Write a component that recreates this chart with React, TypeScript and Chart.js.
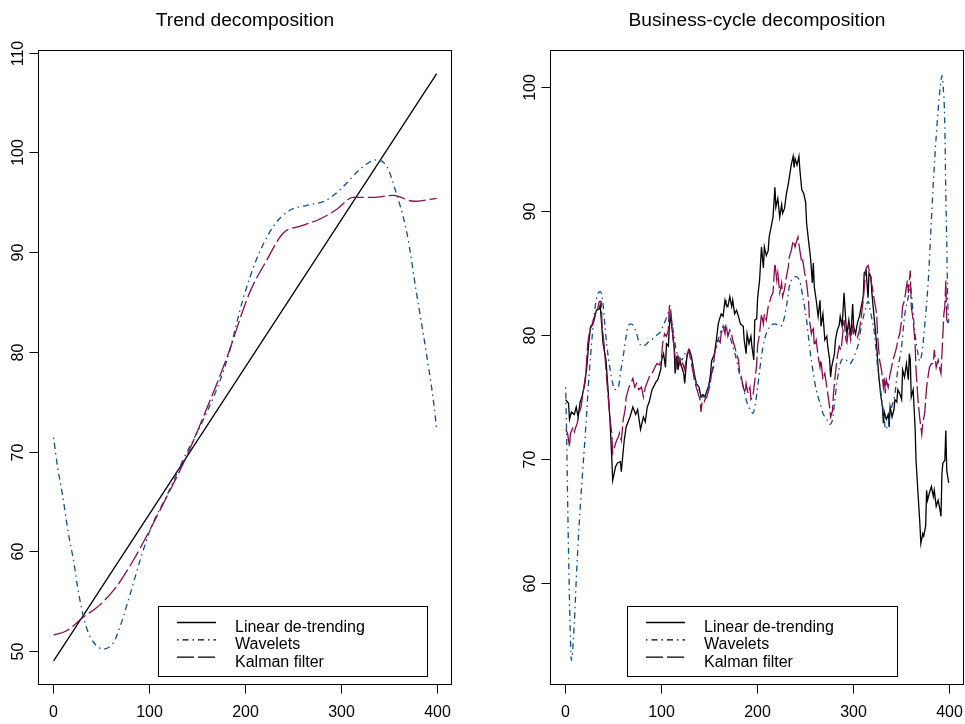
import React, { useEffect, useRef } from "react";
import { Chart, registerables } from "chart.js";

Chart.register(...registerables);

// ---------- tick labels / texts ----------
const xTickValues = [0, 100, 200, 300, 400];
const trendYTicks = [50, 60, 70, 80, 90, 100, 110];
const cycleYTicks = [60, 70, 80, 90, 100];
const legendLabels = ["Linear de-trending", "Wavelets", "Kalman filter"];
const trendTitle = "Trend decomposition";
const cycleTitle = "Business-cycle decomposition";

// ---------- trend panel series: [t, value] ----------
const trendLinear: [number, number][] = [
  [1, 49.0],
  [400, 107.9],
];

const trendWavelets: [number, number][] = [
  [1, 71.4], [5, 68.5], [10, 65.8], [16, 62.0], [22, 58.9], [27, 55.8], [35, 52.4],
  [44, 50.7], [53, 50.2], [63, 50.8], [70, 52.4], [81, 55.8], [92, 59.4], [103, 62.5],
  [119, 65.6], [136, 69.2], [155, 72.8], [169, 75.8], [182, 79.3], [198, 85.2],
  [212, 89.2], [230, 92.6], [247, 94.2], [265, 94.7], [285, 95.2], [303, 96.6],
  [320, 98.3], [337, 99.25], [348, 98.6], [357, 96.2], [369, 91.9], [379, 85.9],
  [390, 79.4], [397, 74.8], [400, 72.2],
];

const trendKalman: [number, number][] = [
  [1, 51.6], [14, 52.0], [32, 53.4], [49, 54.6], [66, 56.4], [84, 59.1], [101, 62.1],
  [119, 65.5], [138, 69.2], [160, 74.2], [181, 79.3], [205, 85.9], [223, 89.2],
  [240, 91.9], [258, 92.6], [278, 93.3], [296, 94.3], [313, 95.5], [334, 95.5],
  [355, 95.7], [376, 95.1], [400, 95.4],
];

// ---------- business-cycle panel series: [t, value] ----------
const cycleLinear: [number, number][] = [
  [1, 74.8], [4, 74.5], [5, 73.2], [7, 73.8], [10, 73.6], [12, 74.2], [14, 73.4], [16, 74.6],
  [18, 75.0], [21, 76.1], [23, 77.4], [25, 79.3], [27, 80.7], [29, 80.8], [31, 81.3], [33, 82.0],
  [36, 82.1], [37, 82.4], [40, 79.3], [43, 78.0], [45, 75.8], [47, 73.4], [49, 70.2], [50, 68.3],
  [53, 69.4], [55, 69.7], [58, 69.8], [59, 69.0], [62, 71.5], [64, 72.6], [68, 73.4], [71, 74.2],
  [74, 73.6], [76, 74.0], [79, 72.4], [82, 73.4], [84, 73.0], [86, 74.2], [88, 74.6], [91, 75.6],
  [95, 76.2], [97, 76.4], [100, 77.2], [101, 78.0], [103, 78.5], [105, 77.4], [106, 79.3],
  [108, 79.1], [109, 80.7], [110, 81.7], [112, 80.4], [114, 79.1], [115, 76.9], [117, 78.3],
  [118, 77.2], [120, 78.0], [122, 77.4], [124, 76.9], [125, 76.1], [127, 78.0], [128, 78.5],
  [130, 78.8], [132, 78.3], [135, 76.9], [137, 76.1], [140, 75.8], [142, 75.0], [144, 75.2],
  [146, 75.0], [149, 75.7], [150, 75.8], [152, 76.9], [153, 77.9], [156, 78.5], [158, 79.6],
  [160, 80.9], [161, 81.2], [163, 81.7], [165, 81.5], [167, 82.8], [168, 82.5], [170, 82.3],
  [172, 83.1], [174, 82.3], [175, 82.8], [177, 81.7], [179, 82.0], [181, 81.5], [183, 80.9],
  [186, 80.7], [187, 79.6], [189, 78.5], [190, 80.1], [192, 79.3], [194, 79.9], [195, 79.1],
  [197, 78.0], [198, 81.2], [200, 81.3], [201, 83.0], [203, 84.4], [205, 87.1], [207, 85.4],
  [208, 87.1], [210, 86.4], [212, 86.8], [213, 87.9], [215, 88.7], [217, 89.5], [219, 91.9],
  [220, 90.3], [222, 91.0], [224, 89.5], [226, 90.5], [227, 89.8], [229, 90.2], [231, 91.4],
  [233, 92.2], [234, 92.7], [236, 93.7], [238, 94.4], [239, 93.5], [240, 94.2], [242, 93.7],
  [244, 94.4], [245, 93.3], [247, 91.7], [249, 91.4], [251, 90.7], [252, 89.0], [254, 87.6],
  [256, 86.3], [258, 84.2], [259, 85.8], [260, 83.9], [262, 82.8], [264, 81.5], [266, 82.8],
  [267, 80.7], [269, 81.7], [271, 79.6], [273, 79.9], [274, 79.1], [276, 78.0], [277, 76.6],
  [278, 77.4], [281, 78.5], [282, 79.6], [284, 80.4], [286, 80.8], [287, 81.5], [289, 80.7],
  [291, 83.4], [293, 80.9], [294, 80.1], [296, 81.2], [298, 79.9], [300, 82.5], [301, 80.7],
  [303, 80.1], [305, 81.0], [307, 81.5], [309, 82.3], [311, 83.1], [312, 85.0], [314, 85.2],
  [316, 83.0], [317, 85.0], [319, 84.7], [320, 83.4], [322, 81.7], [324, 80.1], [325, 79.1],
  [327, 76.9], [329, 75.3], [331, 74.2], [332, 72.9], [333, 73.8], [335, 73.2], [337, 73.6],
  [338, 72.6], [339, 74.2], [341, 73.4], [343, 74.0], [344, 74.8], [346, 74.6], [347, 75.6],
  [349, 75.3], [351, 74.8], [352, 77.2], [354, 76.6], [356, 77.7], [358, 76.4], [359, 78.5],
  [360, 78.0], [361, 75.0], [363, 75.6], [365, 72.6], [366, 69.9], [368, 67.3], [370, 64.8],
  [371, 63.2], [373, 64.0], [374, 63.8], [376, 64.6], [377, 67.5], [378, 66.7], [380, 67.3],
  [382, 67.8], [384, 67.0], [385, 67.5], [387, 66.2], [389, 66.7], [391, 65.9], [392, 65.4],
  [393, 68.9], [394, 69.7], [396, 69.9], [397, 72.3], [398, 69.1], [400, 68.1],
];

const cycleWavelets: [number, number][] = [
  [1, 75.8], [2, 72.0], [3, 67.0], [4, 62.5], [6, 55.5], [7, 53.8], [10, 56.8], [12, 60.2],
  [15, 64.6], [18, 68.2], [22, 72.6], [25, 76.3], [29, 80.2], [31, 81.8], [34, 83.2], [37, 83.5],
  [39, 83.1], [42, 80.7], [44, 79.1], [47, 77.4], [50, 76.1], [52, 75.6], [56, 75.8], [58, 76.9],
  [61, 78.3], [64, 79.9], [66, 80.7], [69, 80.9], [72, 80.7], [75, 80.1], [77, 79.5], [81, 79.1],
  [84, 79.2], [88, 79.5], [92, 79.7], [96, 80.0], [99, 80.2], [103, 80.8], [107, 81.6],
  [109, 82.0], [111, 81.2], [114, 79.9], [116, 78.8], [119, 78.3], [122, 78.0], [124, 78.3],
  [127, 78.7], [129, 78.8], [132, 78.0], [135, 76.9], [138, 75.8], [141, 75.3], [144, 75.0],
  [148, 75.3], [150, 76.0], [153, 76.9], [155, 78.0], [158, 79.1], [161, 79.9], [163, 80.4],
  [166, 80.7], [168, 80.4], [172, 79.9], [175, 79.1], [179, 78.0], [182, 76.9], [186, 75.8],
  [189, 74.8], [193, 74.0], [196, 73.7], [198, 74.2], [201, 75.8], [205, 78.3], [208, 79.6],
  [214, 80.7], [219, 80.9], [224, 80.7], [227, 80.9], [231, 82.3], [234, 83.9], [238, 84.6],
  [241, 84.7], [245, 84.3], [248, 83.1], [252, 81.2], [255, 79.1], [259, 76.9], [262, 75.6],
  [266, 74.5], [269, 73.7], [273, 73.2], [276, 72.8], [279, 73.2], [281, 74.5], [284, 76.4],
  [287, 77.7], [290, 78.1], [293, 78.0], [297, 77.7], [300, 78.0], [304, 78.8], [306, 79.3],
  [309, 80.7], [313, 82.0], [316, 82.7], [319, 81.7], [323, 79.9], [326, 77.4], [330, 75.0],
  [333, 73.2], [334, 72.4], [337, 72.9], [340, 74.0], [344, 75.3], [347, 77.2], [351, 79.1],
  [354, 81.5], [358, 83.1], [360, 83.9], [363, 81.7], [365, 80.1], [368, 78.5], [370, 77.9],
  [372, 78.5], [375, 80.7], [379, 84.7], [382, 89.3], [385, 93.6], [389, 98.1], [392, 100.5],
  [393, 100.9], [394, 100.3], [396, 96.8], [397, 91.4], [398, 87.4], [399, 82.8], [400, 81.0],
];

const cycleKalman: [number, number][] = [
  [1, 72.4], [3, 72.1], [5, 71.0], [6, 72.1], [9, 72.6], [10, 72.2], [13, 72.9], [15, 73.7],
  [17, 74.2], [20, 75.8], [22, 76.9], [24, 79.3], [26, 80.4], [28, 80.7], [30, 81.3], [32, 81.7],
  [34, 82.0], [36, 82.7], [38, 82.7], [39, 80.7], [41, 79.3], [43, 77.2], [45, 75.3], [47, 73.4],
  [49, 72.1], [50, 70.5], [52, 71.0], [54, 71.5], [56, 71.8], [57, 72.1], [59, 71.5], [61, 73.2],
  [63, 74.0], [64, 75.0], [67, 75.8], [69, 76.1], [71, 76.5], [73, 75.8], [75, 76.1], [77, 75.6],
  [80, 75.8], [82, 75.0], [84, 75.8], [87, 76.4], [89, 76.8], [91, 76.9], [94, 77.4], [96, 77.7],
  [99, 77.6], [101, 78.3], [102, 79.3], [104, 80.1], [106, 79.9], [108, 80.4], [109, 82.3],
  [110, 82.4], [112, 80.7], [113, 79.6], [115, 78.3], [116, 77.4], [118, 78.3], [120, 77.7],
  [122, 77.4], [123, 77.7], [125, 77.2], [127, 78.3], [129, 78.8], [130, 78.5], [132, 77.7],
  [134, 76.9], [135, 76.4], [137, 75.8], [139, 75.3], [141, 74.8], [142, 73.8], [143, 74.5],
  [145, 74.4], [146, 74.8], [148, 75.0], [149, 75.3], [151, 75.8], [153, 76.9], [155, 77.4],
  [156, 78.5], [158, 79.1], [160, 79.6], [162, 79.4], [163, 80.1], [165, 80.7], [167, 80.1],
  [168, 80.9], [170, 79.9], [172, 80.4], [174, 80.1], [175, 79.6], [177, 79.1], [179, 78.5],
  [181, 78.0], [182, 77.2], [184, 76.6], [186, 75.8], [188, 75.3], [189, 76.1], [191, 75.3],
  [193, 75.8], [194, 74.8], [196, 75.0], [198, 76.3], [200, 77.6], [201, 79.2], [203, 80.1],
  [205, 81.7], [207, 80.9], [208, 81.7], [210, 81.2], [212, 82.3], [214, 82.8], [215, 83.1],
  [217, 83.4], [219, 85.8], [221, 84.4], [222, 85.0], [224, 83.4], [226, 84.2], [227, 83.1],
  [229, 83.7], [231, 84.7], [233, 85.5], [234, 86.3], [236, 86.8], [238, 87.6], [240, 87.1],
  [241, 87.4], [243, 87.9], [245, 86.8], [247, 85.8], [248, 86.0], [250, 85.0], [252, 84.2],
  [254, 82.8], [255, 81.2], [257, 80.1], [259, 80.7], [260, 79.1], [262, 79.6], [264, 78.3],
  [266, 77.4], [267, 78.0], [269, 76.4], [271, 76.9], [273, 75.8], [274, 75.3], [276, 74.2],
  [277, 73.4], [279, 73.9], [280, 75.3], [282, 76.9], [284, 78.3], [286, 79.1], [288, 78.8],
  [289, 79.6], [291, 81.2], [293, 79.6], [294, 79.4], [296, 80.7], [298, 79.6], [300, 80.7],
  [301, 80.1], [303, 79.9], [305, 79.8], [307, 80.4], [309, 81.5], [311, 82.8], [313, 84.7],
  [314, 85.4], [316, 85.6], [318, 85.0], [319, 84.4], [321, 83.6], [323, 82.6], [325, 81.7],
  [326, 79.9], [328, 78.0], [330, 77.2], [332, 75.8], [333, 76.6], [334, 75.3], [335, 76.4],
  [337, 75.8], [339, 76.9], [340, 77.2], [342, 78.0], [344, 78.5], [346, 79.1], [347, 79.6],
  [349, 80.1], [351, 81.2], [352, 82.3], [354, 82.8], [356, 83.9], [357, 84.4], [358, 83.4],
  [360, 85.2], [361, 82.3], [363, 81.2], [365, 79.3], [366, 77.2], [368, 74.8], [370, 73.2],
  [372, 72.0], [373, 72.9], [375, 73.7], [377, 75.8], [379, 76.9], [380, 77.4], [382, 77.7],
  [384, 77.7], [385, 78.8], [387, 77.4], [389, 78.0], [391, 77.2], [392, 76.9], [394, 80.1],
  [395, 81.7], [396, 82.3], [397, 84.4], [398, 81.2], [400, 80.9],
];

// ---------- styles ----------
const FONT = '"Liberation Sans", Arial, Helvetica, sans-serif';
const COLOR_LINEAR = "#000000";
const COLOR_WAVELETS = "#104E8B";
const COLOR_KALMAN = "#8B0A50";
const DASH_LINEAR: number[] = [];
const DASH_WAVELETS = [1.5, 4, 6, 4];
const DASH_KALMAN = [17, 4];
const LINE_W = 1.3;

type Series = [number, number][];

interface PanelProps {
  left: number;
  width: number;
  title: string;
  linear: Series;
  wavelets: Series;
  kalman: Series;
  smoothAll: boolean;
  yMin: number;
  yMax: number;
  yTicks: number[];
  pad: { left: number; right: number; top: number; bottom: number };
  legendBox: { l: number; t: number; r: number; b: number };
}

function Panel(props: PanelProps) {
  const ref = useRef<HTMLCanvasElement | null>(null);

  useEffect(() => {
    const canvas = ref.current;
    if (!canvas) return;

    const toXY = (s: Series) => s.map(([x, y]) => ({ x, y }));

    const rPlugin = {
      id: "rstyle",
      afterDraw(chart: any) {
        const { ctx, chartArea: a } = chart;
        const xs = chart.scales.x;
        const ys = chart.scales.y;
        ctx.save();
        ctx.setLineDash([]);
        ctx.strokeStyle = "#000";
        ctx.fillStyle = "#000";
        ctx.lineWidth = 1;
        ctx.lineCap = "butt";

        // plot box
        ctx.strokeRect(a.left + 0.5, a.top + 0.5, a.right - a.left - 1, a.bottom - a.top - 1);

        // x axis ticks + labels
        ctx.font = `16px ${FONT}`;
        ctx.textAlign = "center";
        ctx.textBaseline = "alphabetic";
        const yAxis = a.bottom - 0.5;
        for (const t of xTickValues) {
          const px = Math.round(xs.getPixelForValue(t)) + 0.5;
          ctx.beginPath();
          ctx.moveTo(px, yAxis);
          ctx.lineTo(px, yAxis + 9);
          ctx.stroke();
          ctx.fillText(String(t), px, 717);
        }

        // y axis ticks + rotated labels
        const xAxis = a.left + 0.5;
        for (const t of props.yTicks) {
          const py = Math.round(ys.getPixelForValue(t)) + 0.5;
          ctx.beginPath();
          ctx.moveTo(xAxis, py);
          ctx.lineTo(xAxis - 9, py);
          ctx.stroke();
          ctx.save();
          ctx.translate(a.left - 15, py);
          ctx.rotate(-Math.PI / 2);
          ctx.textAlign = "center";
          ctx.fillText(String(t), 0, 0);
          ctx.restore();
        }

        // title
        ctx.font = `19.2px ${FONT}`;
        ctx.textAlign = "center";
        ctx.fillText(props.title, (a.left + a.right) / 2, 26);

        // legend
        const lb = props.legendBox;
        ctx.fillStyle = "#fff";
        ctx.fillRect(lb.l, lb.t, lb.r - lb.l, lb.b - lb.t);
        ctx.fillStyle = "#000";
        ctx.strokeRect(lb.l + 0.5, lb.t + 0.5, lb.r - lb.l, lb.b - lb.t);
        const dashes = [DASH_LINEAR, DASH_WAVELETS, DASH_KALMAN];
        ctx.font = `16px ${FONT}`;
        ctx.textAlign = "left";
        legendLabels.forEach((label, i) => {
          const ly = lb.t + 16.5 + i * 17.3;
          ctx.save();
          ctx.lineWidth = LINE_W;
          ctx.setLineDash(dashes[i]);
          ctx.beginPath();
          ctx.moveTo(lb.l + 19, ly);
          ctx.lineTo(lb.l + 58, ly);
          ctx.stroke();
          ctx.restore();
          ctx.fillText(label, lb.l + 77, ly + 9.4);
        });

        ctx.restore();
      },
    };

    const chart = new Chart(canvas, {
      type: "line",
      data: {
        datasets: [
          {
            label: legendLabels[0],
            data: toXY(props.linear),
            borderColor: COLOR_LINEAR,
            borderWidth: LINE_W,
            borderDash: DASH_LINEAR,
            pointRadius: 0,
            fill: false,
            tension: 0,
            order: 3,
          },
          {
            label: legendLabels[1],
            data: toXY(props.wavelets),
            borderColor: COLOR_WAVELETS,
            borderWidth: LINE_W,
            borderDash: DASH_WAVELETS,
            pointRadius: 0,
            fill: false,
            cubicInterpolationMode: "monotone",
            order: 2,
          },
          {
            label: legendLabels[2],
            data: toXY(props.kalman),
            borderColor: COLOR_KALMAN,
            borderWidth: LINE_W,
            borderDash: DASH_KALMAN,
            pointRadius: 0,
            fill: false,
            ...(props.smoothAll ? { cubicInterpolationMode: "monotone" as const } : { tension: 0 }),
            order: 1,
          },
        ],
      },
      options: {
        animation: false,
        responsive: false,
        maintainAspectRatio: false,
        events: [],
        layout: { padding: props.pad, autoPadding: false },
        scales: {
          x: { type: "linear", display: false, min: -15.3, max: 415.96 },
          y: { type: "linear", display: false, min: props.yMin, max: props.yMax },
        },
        plugins: {
          legend: { display: false },
          tooltip: { enabled: false },
          title: { display: false },
        },
      },
      plugins: [rPlugin],
    });

    return () => chart.destroy();
  }, []);

  return (
    <canvas
      ref={ref}
      width={props.width}
      height={724}
      style={{ position: "absolute", left: props.left, top: 0, width: props.width, height: 724, display: "block" }}
    />
  );
}

export default function App() {
  return (
    <div style={{ position: "fixed", left: 0, top: 0, width: 965, height: 724, background: "#fff", overflow: "hidden" }}>
      <Panel
        left={0}
        width={482}
        title={trendTitle}
        linear={trendLinear}
        wavelets={trendWavelets}
        kalman={trendKalman}
        smoothAll={true}
        yMin={46.59}
        yMax={110.27}
        yTicks={trendYTicks}
        pad={{ left: 38, right: 30, top: 50, bottom: 39 }}
        legendBox={{ l: 158, t: 606, r: 427, b: 676 }}
      />
      <Panel
        left={482}
        width={483}
        title={cycleTitle}
        linear={cycleLinear}
        wavelets={cycleWavelets}
        kalman={cycleKalman}
        smoothAll={false}
        yMin={51.81}
        yMax={102.96}
        yTicks={cycleYTicks}
        pad={{ left: 68, right: 1, top: 50, bottom: 39 }}
        legendBox={{ l: 145, t: 606, r: 415, b: 676 }}
      />
    </div>
  );
}
